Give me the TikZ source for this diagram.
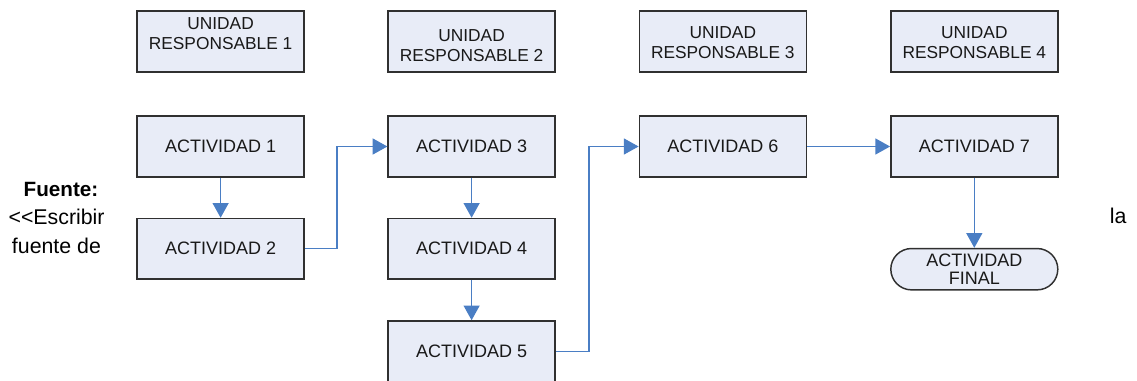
\documentclass[tikz,border=0pt]{standalone}
\usepackage{fontspec}
\setmainfont{Liberation Sans}
\usetikzlibrary{arrows.meta}
\definecolor{boxfill}{RGB}{232,236,247}
\definecolor{boxline}{RGB}{48,48,48}
\definecolor{flow}{RGB}{74,126,196}
\definecolor{txt}{RGB}{25,25,25}
\newcommand\liftby[2]{\raisebox{#1}[\height][\depth]{\begin{tabular}{@{}c@{}}#2\end{tabular}}}
\begin{document}
\begin{tikzpicture}[x=0.75pt,y=-0.75pt,
  box/.style={draw=boxline, line width=1.1pt, fill=boxfill,
    minimum width=125.25pt, minimum height=45.5pt, inner sep=0pt,
    align=center, text=txt, font=\fontsize{13.5}{15}\selectfont},
  unitbox/.style={box, font=\fontsize{13}{15}\selectfont},
  endbox/.style={box, minimum height=31pt, rounded corners=15.5pt,
    font=\fontsize{13.5}{13.5}\selectfont},
  flowline/.style={draw=flow, line width=0.9pt, -{Triangle[length=11pt,width=12pt]}},
  note/.style={inner sep=0pt, text=black, font=\fontsize{16}{19}\selectfont}
]
\useasboundingbox (0,0) rectangle (1137,381);

% responsible units
\node[unitbox] (u1) at (220.6,41.5) {\liftby{4.3pt}{UNIDAD\\RESPONSABLE 1}};
\node[unitbox] (u2) at (471.6,41.5) {\liftby{-4.4pt}{UNIDAD\\RESPONSABLE 2}};
\node[unitbox] (u3) at (722.8,41.5) {\liftby{-1.9pt}{UNIDAD\\RESPONSABLE 3}};
\node[unitbox] (u4) at (974.3,41.5) {\liftby{-1.9pt}{UNIDAD\\RESPONSABLE 4}};

% activities
\node[box] (a1) at (220.6,146.5) {ACTIVIDAD 1};
\node[box] (a2) at (220.6,248.8) {ACTIVIDAD 2};
\node[box] (a3) at (471.6,146.5) {ACTIVIDAD 3};
\node[box] (a4) at (471.6,248.8) {ACTIVIDAD 4};
\node[box] (a5) at (471.6,351.3) {ACTIVIDAD 5};
\node[box] (a6) at (722.8,146.5) {ACTIVIDAD 6};
\node[box] (a7) at (974.3,146.5) {ACTIVIDAD 7};
\node[endbox] (fin) at (974.3,269.2) {ACTIVIDAD\\FINAL};

% bend points
\coordinate (j1) at (337,200);
\coordinate (j2) at (589,200);

% connectors
\draw[flowline] (a1) -- (a2);
\draw[flowline] (a2.east) -- (a2.east -| j1) |- (a3.west);
\draw[flowline] (a3) -- (a4);
\draw[flowline] (a4) -- (a5);
\draw[flowline] (a5.east) -- (a5.east -| j2) |- (a6.west);
\draw[flowline] (a6) -- (a7);
\draw[flowline] (a7) -- (fin);

% surrounding text
\node[note, anchor=base, font=\bfseries\fontsize{15.5}{17}\selectfont] (nf) at (61,196) {Fuente:};
\node[note, anchor=base west] (ne) at (8.3,224.5) {<\kern0pt<Escribir};
\node[note, anchor=base west] (nd) at (11.7,253) {fuente de};
\node[note, anchor=base east] (nl) at (1126.7,223.5) {la};
\end{tikzpicture}
\end{document}
